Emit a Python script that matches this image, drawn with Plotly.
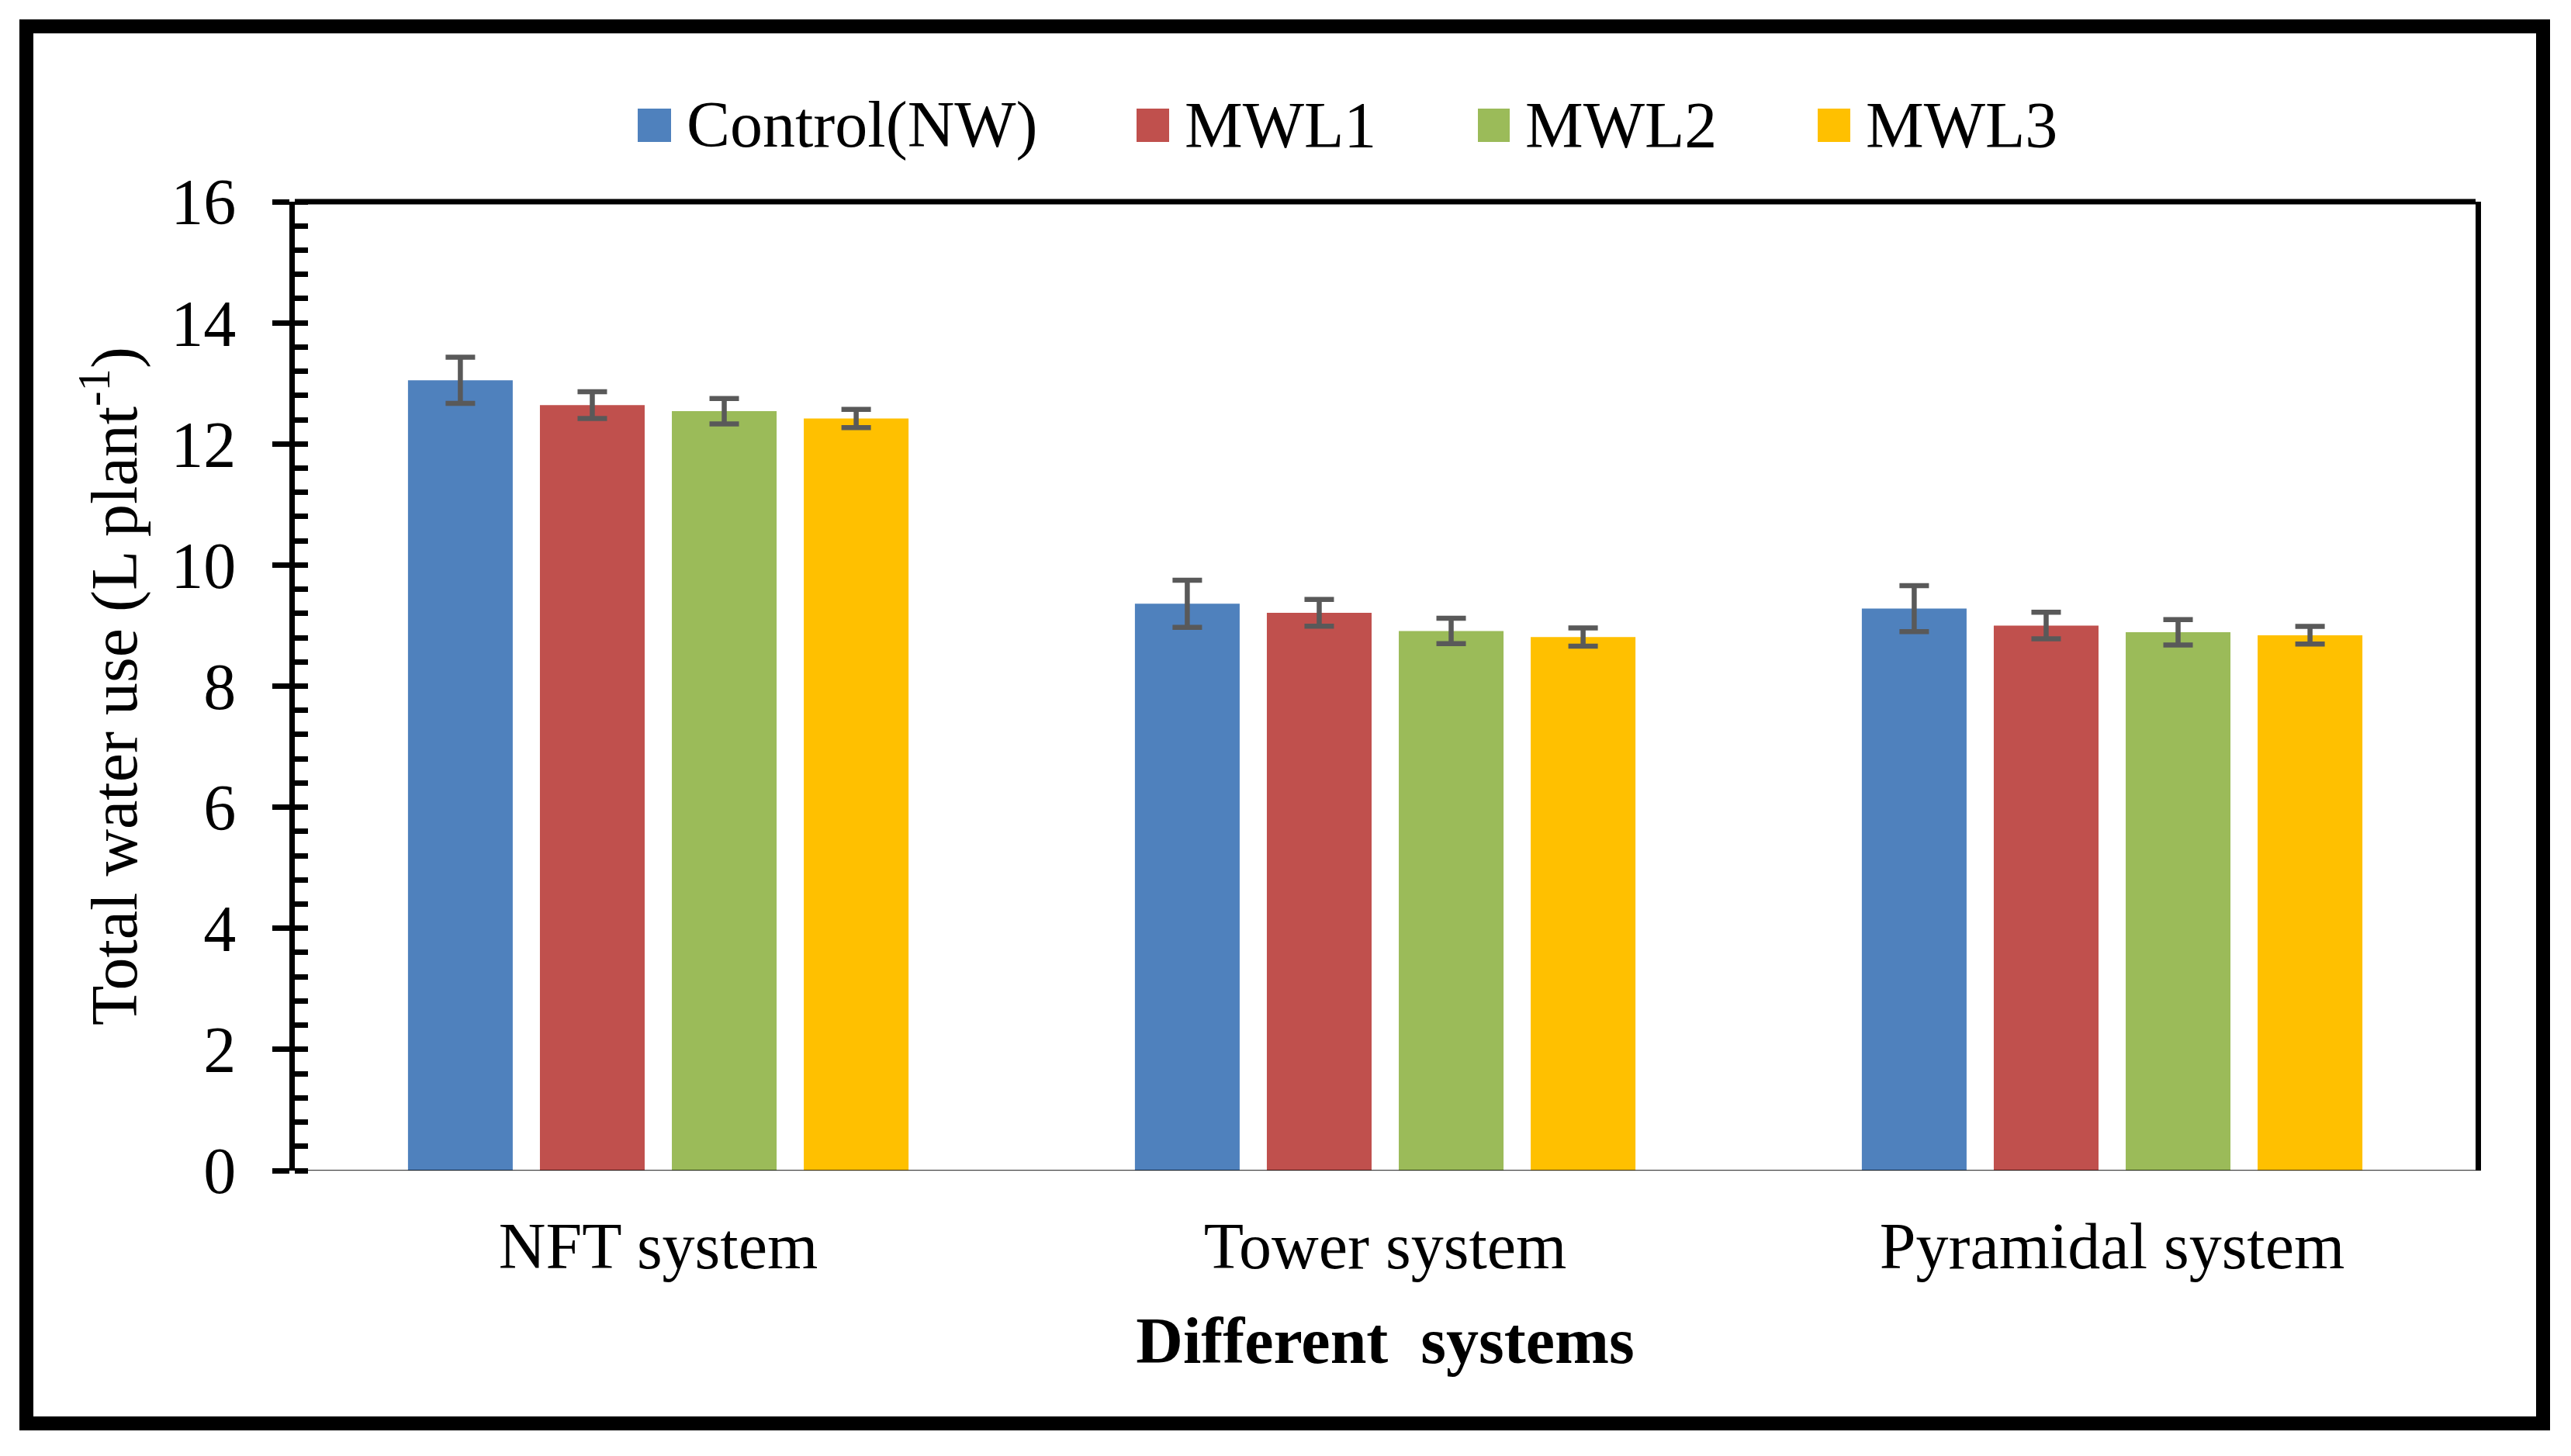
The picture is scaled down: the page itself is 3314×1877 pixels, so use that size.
import plotly.graph_objects as go

# data
systems = ["NFT system", "Tower system", "Pyramidal system"]
series_names = ["Control(NW)", "MWL1", "MWL2", "MWL3"]
control_nw = [13.05, 9.36, 9.28]
mwl1 = [12.64, 9.21, 9.00]
mwl2 = [12.54, 8.91, 8.89]
mwl3 = [12.42, 8.81, 8.84]
control_nw_err = [0.38, 0.39, 0.38]
mwl1_err = [0.22, 0.22, 0.22]
mwl2_err = [0.21, 0.21, 0.21]
mwl3_err = [0.15, 0.15, 0.145]
y_ticks = [0, 2, 4, 6, 8, 10, 12, 14, 16]

colors = ["#4F81BD", "#C0504D", "#9BBB59", "#FFC000"]
values = [control_nw, mwl1, mwl2, mwl3]
errors = [control_nw_err, mwl1_err, mwl2_err, mwl3_err]

# page body adds an 8px margin, so the figure is drawn 16px smaller
OFF = 8
W, H = 3314 - 2 * OFF, 1877 - 2 * OFF
L, T = 380 - OFF, 260 - OFF
PW, PH = 2811, 1249
R, B = W - L - PW, H - T - PH
FONT = "Liberation Serif, Times New Roman, serif"


def px(x):
    # reference pixel x -> paper fraction
    return (x - OFF - L) / PW


def py(y):
    # reference pixel y -> paper fraction
    return (T + PH - (y - OFF)) / PH


fig = go.Figure()
for name, vals, errs, col in zip(series_names, values, errors, colors):
    fig.add_trace(go.Bar(
        x=systems, y=vals, name=name, marker=dict(color=col, line=dict(width=0)),
        error_y=dict(type="data", array=errs, color="#595959", thickness=6.5, width=19),
        showlegend=False,
    ))

shapes = [
    # outer figure frame
    dict(type="rect", xref="paper", yref="paper", x0=px(34), x1=px(3278), y0=py(34), y1=py(1835),
         line=dict(color="black", width=18), layer="above"),
    # top edge of plot area
    dict(type="line", xref="paper", yref="paper", x0=0, x1=1, y0=1, y1=1,
         line=dict(color="black", width=7)),
    # grey baseline with dark outline
    dict(type="rect", xref="paper", yref="y", ysizemode="pixel", yanchor=0, y0=0, y1=-6,
         x0=0, x1=1, fillcolor="#D9D9D9", line=dict(color="black", width=1.5)),
]

# legend drawn by hand so the swatches match the large squares
legend_sq = [(822, 865), (1465, 1507), (1905, 1946), (2343, 2385)]
annotations = []
for (a, b), name, col in zip(legend_sq, series_names, colors):
    shapes.append(dict(type="rect", xref="paper", yref="paper", x0=px(a), x1=px(b),
                       y0=py(183), y1=py(140), fillcolor=col, line=dict(width=0)))
    annotations.append(dict(xref="paper", yref="paper", x=px(b + 18), y=py(161),
                            xanchor="left", yanchor="middle", text=name, showarrow=False,
                            font=dict(family=FONT, size=84, color="black")))

fig.update_layout(
    width=W, height=H,
    margin=dict(l=L, r=R, t=T, b=B),
    paper_bgcolor="white", plot_bgcolor="white",
    barmode="group", bargap=0.274, bargroupgap=0.206,
    font=dict(family=FONT, size=84, color="black"),
    shapes=shapes, annotations=annotations,
    xaxis=dict(
        showline=True, linecolor="#D9D9D9", linewidth=1, showgrid=False, ticks="",
        tickfont=dict(size=84), ticklabelstandoff=24,
        title=dict(text="<b>Different\u00a0 systems</b>", font=dict(size=84), standoff=46),
    ),
    yaxis=dict(
        range=[0, 16], tickvals=y_ticks, showgrid=False, zeroline=False,
        showline=True, linecolor="black", linewidth=7, mirror=True,
        ticks="outside", ticklen=22, tickwidth=6.5, tickcolor="black",
        minor=dict(dtick=0.4, ticks="inside", ticklen=17, tickwidth=6.5, tickcolor="black"),
        tickfont=dict(size=84), ticklabelstandoff=30,
        title=dict(text="Total water use (L plant<sup>-1</sup>)", font=dict(size=84), standoff=18),
    ),
    yaxis2=dict(
        range=[0, 16], tickvals=y_ticks, overlaying="y", side="left", showgrid=False,
        zeroline=False, showline=False, showticklabels=False,
        ticks="inside", ticklen=17, tickwidth=6.5, tickcolor="black",
    ),
)

fig.write_html("out.html")
